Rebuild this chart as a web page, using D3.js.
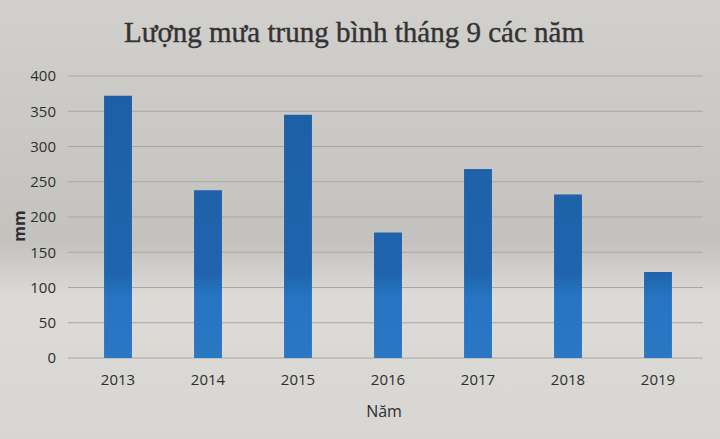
<!DOCTYPE html>
<html><head><meta charset="utf-8">
<script src="https://cdn.jsdelivr.net/npm/d3@7"></script>
<style>html,body{margin:0;padding:0;background:#d4d2cf;}</style>
</head><body>
<script>
const years = ["2013","2014","2015","2016","2017","2018","2019"];
const rainfall = [372, 238, 345, 178, 268, 232, 122];
const yTicks = [0,50,100,150,200,250,300,350,400];
const titleText = "Lượng mưa trung bình tháng 9 các năm";
const xTitle = "Năm";
const yTitle = "mm";

const W = 720, H = 439;
const svg = d3.select("body").append("svg").attr("width", W).attr("height", H);
const defs = svg.append("defs");
const bg = defs.append("linearGradient").attr("id","bg").attr("x1",0).attr("y1",0).attr("x2",0).attr("y2",1);
bg.append("stop").attr("offset","0%").attr("stop-color","#d2d0cd");
bg.append("stop").attr("offset","55%").attr("stop-color","#c4c2bf");
bg.append("stop").attr("offset","68%").attr("stop-color","#dcdbd8");
bg.append("stop").attr("offset","100%").attr("stop-color","#d8d6d3");
svg.append("rect").attr("width",W).attr("height",H).attr("fill","url(#bg)");

const barGrad = defs.append("linearGradient").attr("id","bar").attr("x1",0).attr("y1",0).attr("x2",0).attr("y2",1).attr("gradientUnits","userSpaceOnUse").attr("y1",76).attr("y2",358);
barGrad.append("stop").attr("offset","0%").attr("stop-color","#1d5fa6");
barGrad.append("stop").attr("offset","70%").attr("stop-color","#1f64ad");
barGrad.append("stop").attr("offset","78%").attr("stop-color","#2674c2");
barGrad.append("stop").attr("offset","100%").attr("stop-color","#2a78c4");

const x = d3.scaleBand().domain(years).range([73, 703]).paddingInner(0.69).paddingOuter(0.345);
const y = d3.scaleLinear().domain([0, 400]).range([358, 76]);

// gridlines
svg.append("g").selectAll("line").data(yTicks).join("line")
  .attr("x1", 68).attr("x2", 703)
  .attr("y1", d => y(d)).attr("y2", d => y(d))
  .attr("stroke", "#a9a7a4").attr("stroke-width", 1);

// y axis labels
const yAxis = d3.axisLeft(y).tickValues(yTicks).tickSize(0).tickPadding(0);
const gy = svg.append("g").attr("transform","translate(56,0)").call(yAxis);
gy.select(".domain").remove();
gy.selectAll("text").attr("font-family","'Open Sans', sans-serif").attr("font-size",15).attr("fill","#2e2e2e");

// x axis labels
const xAxis = d3.axisBottom(x).tickSize(0).tickPadding(0);
const gx = svg.append("g").attr("transform","translate(0,374)").call(xAxis);
gx.select(".domain").remove();
gx.selectAll("text").attr("font-family","'Open Sans', sans-serif").attr("font-size",15).attr("fill","#2e2e2e");

// bars
svg.append("g").selectAll("rect").data(years).join("rect")
  .attr("x", d => x(d)).attr("width", x.bandwidth())
  .attr("y", (d,i) => y(rainfall[i])).attr("height", (d,i) => y(0) - y(rainfall[i]))
  .attr("fill", "url(#bar)");

// title
svg.append("text").attr("x", 354).attr("y", 42).attr("text-anchor","middle")
  .attr("font-family","'Liberation Serif', 'Times New Roman', serif").attr("font-size",29)
  .attr("stroke","#333").attr("stroke-width",0.4)
  .attr("fill","#333").text(titleText);

// axis titles
svg.append("text").attr("x", 384).attr("y", 417).attr("text-anchor","middle")
  .attr("font-family","'Open Sans', sans-serif").attr("font-size",16).attr("fill","#2e2e2e").text(xTitle);
svg.append("text").attr("transform","translate(25,226) rotate(-90)").attr("text-anchor","middle")
  .attr("font-family","'Open Sans', sans-serif").attr("font-size",16).attr("font-weight","bold").attr("fill","#2e2e2e").text(yTitle);
</script>
</body></html>
